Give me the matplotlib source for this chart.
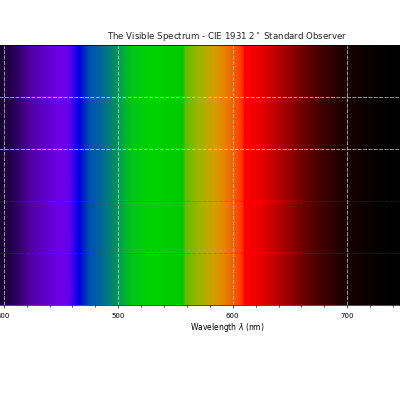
import matplotlib
matplotlib.use("Agg")
import matplotlib.pyplot as plt
import numpy as np
from matplotlib.colors import LinearSegmentedColormap

# colours at a few wavelengths (nm)
wavelengths = [360, 396, 410, 423, 440, 449, 457, 462, 466, 469, 475, 484, 497, 506,
               514, 527, 545, 556, 559, 571, 584, 593, 600, 606, 609, 610, 624, 641,
               658, 676, 693, 711, 728, 746, 830]
colours = [(0, 0, 0), (20, 0, 45), (40, 0, 90), (80, 0, 160), (100, 0, 210),
           (110, 0, 230), (100, 0, 235), (40, 0, 230), (0, 0, 230), (0, 30, 200),
           (0, 80, 180), (0, 100, 155), (0, 140, 100), (0, 180, 50), (0, 200, 20),
           (0, 210, 0), (0, 205, 0), (0, 200, 0), (100, 190, 0), (160, 180, 0),
           (210, 160, 0), (230, 130, 0), (240, 100, 0), (250, 70, 0), (252, 40, 0),
           (255, 0, 0), (235, 0, 0), (180, 0, 0), (120, 0, 0), (70, 0, 0),
           (35, 0, 0), (15, 0, 0), (5, 0, 0), (0, 0, 0), (0, 0, 0)]

x_min, x_max = wavelengths[0], wavelengths[-1]
pos = [(w - x_min) / (x_max - x_min) for w in wavelengths]
cmap = LinearSegmentedColormap.from_list(
    "spectrum", list(zip(pos, [tuple(c / 255 for c in col) for col in colours])), N=1024)

fig = plt.figure(figsize=(4, 4), dpi=100)
# the reference axes run off the left and right edges of the picture
ax = fig.add_axes([-0.105, 0.2375, 1.345, 0.65])

grad = np.linspace(0, 1, 1024)[None, :]
ax.imshow(grad, cmap=cmap, aspect="auto", extent=[x_min, x_max, 0, 1], zorder=0)
ax.set_xlim(x_min, x_max)
ax.set_ylim(0, 1)

ax.set_xticks([400, 500, 600, 700])
ax.set_xticks(np.arange(360, 831, 20), minor=True)
ax.set_yticks([0, 0.2, 0.4, 0.6, 0.8, 1.0])
ax.tick_params(labelsize=5, length=2.5, width=0.5, colors="black")
ax.tick_params(which="minor", length=1.5, width=0.5)
ax.tick_params(axis="y", labelleft=False)

grid_style = dict(linestyle=(0, (4, 1.5)), linewidth=0.7, zorder=3)
ax.grid(True, axis="x", color="#d0d0d0", alpha=0.75, **grid_style)
for y in ax.get_yticks():
    if 0 < y < 1:
        if y > 0.5:
            ax.axhline(y, color="#d0d0d0", alpha=0.75, **grid_style)
        else:
            ax.axhline(y, color="#505050", alpha=0.3, **grid_style)
for s in ax.spines.values():
    s.set_linewidth(0.5)

ax.set_title("The Visible Spectrum - CIE 1931 2$^\\circ$ Standard Observer", fontsize=6.2,
             color="#222222", pad=4)
ax.set_xlabel("Wavelength $\\lambda$ (nm)", fontsize=5.5, labelpad=1)

fig.savefig("out.png", dpi=100)
